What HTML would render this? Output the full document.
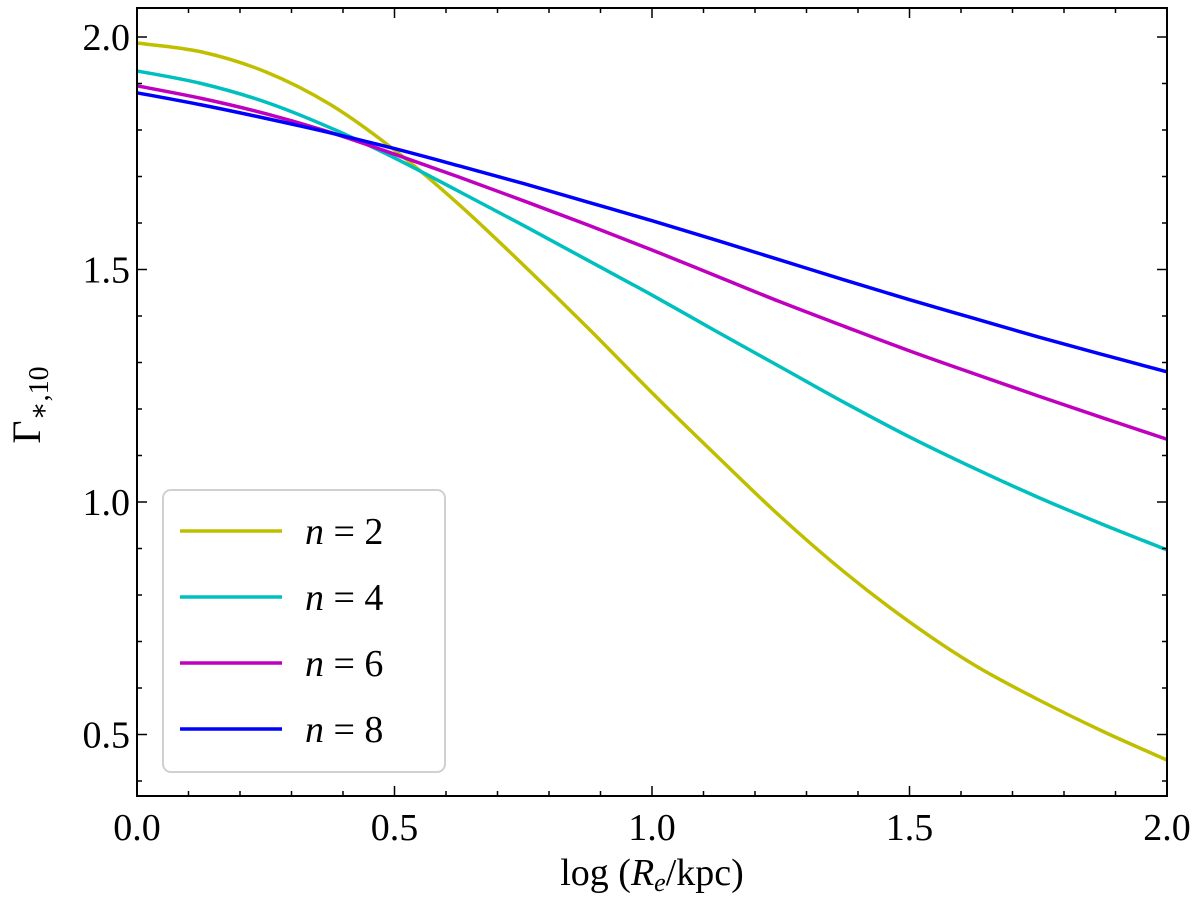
<!DOCTYPE html>
<html><head><meta charset="utf-8"><style>
body{margin:0;background:#fff}
svg text{font-family:"Liberation Serif","DejaVu Serif",serif;fill:#000}
</style></head><body>
<svg id="chart" width="1200" height="905" viewBox="0 0 1200 905" xmlns="http://www.w3.org/2000/svg">
<g id="marks"></g>
<g id="axes"></g>
<g id="legend"></g>
</svg>
<script>
const xs = [0, 0.125, 0.25, 0.375, 0.5, 0.625, 0.75, 0.875, 1.0, 1.125, 1.25, 1.375, 1.5, 1.625, 1.75, 1.875, 2.0];
const seriesN2 = [1.987, 1.968, 1.925, 1.855, 1.757, 1.64, 1.51, 1.375, 1.235, 1.10, 0.968, 0.848, 0.742, 0.65, 0.575, 0.507, 0.445];
const seriesN4 = [1.927, 1.90, 1.86, 1.805, 1.74, 1.668, 1.595, 1.52, 1.445, 1.367, 1.29, 1.213, 1.14, 1.073, 1.01, 0.952, 0.897];
const seriesN6 = [1.895, 1.868, 1.835, 1.795, 1.748, 1.699, 1.648, 1.596, 1.542, 1.486, 1.43, 1.377, 1.325, 1.276, 1.228, 1.181, 1.135];
const seriesN8 = [1.88, 1.854, 1.825, 1.794, 1.76, 1.723, 1.685, 1.645, 1.605, 1.563, 1.52, 1.477, 1.435, 1.395, 1.355, 1.317, 1.28];
const seriesLabels = ["n = 2", "n = 4", "n = 6", "n = 8"];
const xTicks = [0.0, 0.5, 1.0, 1.5, 2.0];
const yTicks = [0.5, 1.0, 1.5, 2.0];

const NS = "http://www.w3.org/2000/svg";
const L = 137, R = 1167, T = 8, B = 796;
function xp(v){ return L + v / 2 * (R - L); }
function yp(v){ return 37 + (2 - v) * 465; }
function mk(tag, attrs, parent){ const e = document.createElementNS(NS, tag); for (const k in attrs) e.setAttribute(k, attrs[k]); parent.appendChild(e); return e; }
function smoothPath(px, py){
  let d = "M" + px[0] + "," + py[0];
  for (let i = 0; i < px.length - 1; i++){
    const p0 = i > 0 ? i - 1 : i, p3 = i + 2 < px.length ? i + 2 : i + 1;
    const c1x = px[i] + (px[i+1] - px[p0]) / 6, c1y = py[i] + (py[i+1] - py[p0]) / 6;
    const c2x = px[i+1] - (px[p3] - px[i]) / 6, c2y = py[i+1] - (py[p3] - py[i]) / 6;
    d += " C" + c1x + "," + c1y + " " + c2x + "," + c2y + " " + px[i+1] + "," + py[i+1];
  }
  return d;
}
const marks = document.getElementById("marks");
const allSeries = [seriesN2, seriesN4, seriesN6, seriesN8];
const colors = ["#bfbf00", "#00bfbf", "#bf00bf", "#0000ff"];
const names = ["line-n2", "line-n4", "line-n6", "line-n8"];
allSeries.forEach((s, i) => {
  const p = mk("path", {d: smoothPath(xs.map(xp), s.map(yp)), fill: "none", stroke: colors[i], "stroke-width": 3.5}, marks);
  
  
});
const axes = document.getElementById("axes");
const frame = mk("rect", {x: L, y: T, width: R - L, height: B - T, fill: "none", stroke: "#000", "stroke-width": 2}, axes);


for (let i = 0; i <= 20; i++){
  const v = i / 10, x = xp(v), len = (i % 5 === 0) ? 10 : 5;
  mk("line", {x1: x, x2: x, y1: B, y2: B - len, stroke: "#000", "stroke-width": 1.5}, axes);
  mk("line", {x1: x, x2: x, y1: T, y2: T + len, stroke: "#000", "stroke-width": 1.5}, axes);
}
for (let i = 4; i <= 20; i++){
  const v = i / 10, y = yp(v), len = (i % 5 === 0) ? 10 : 5;
  if (y < T || y > B) continue;
  mk("line", {x1: L, x2: L + len, y1: y, y2: y, stroke: "#000", "stroke-width": 1.5}, axes);
  mk("line", {x1: R, x2: R - len, y1: y, y2: y, stroke: "#000", "stroke-width": 1.5}, axes);
}
xTicks.forEach(v => {
  const t = mk("text", {x: xp(v), y: 840, "text-anchor": "middle", "font-size": 38}, axes);
  t.textContent = v.toFixed(1);
  
  
});
yTicks.forEach(v => {
  const t = mk("text", {x: 130, y: yp(v) + 13, "text-anchor": "end", "font-size": 38}, axes);
  t.textContent = v.toFixed(1);
  
  
});
const xt = mk("text", {x: 652, y: 885, "text-anchor": "middle", "font-size": 38}, axes);
xt.innerHTML = 'log (<tspan font-style="italic">R</tspan><tspan font-style="italic" font-size="26" dy="6">e</tspan><tspan dy="-6">/kpc)</tspan>';


const yt = mk("text", {x: 0, y: 0, "text-anchor": "middle", "font-size": 40, transform: "translate(40,405) rotate(-90)"}, axes);
yt.innerHTML = 'Γ<tspan font-size="28" dy="8">∗,10</tspan>';


const leg = document.getElementById("legend");
const box = mk("rect", {x: 163, y: 490, width: 282, height: 282, rx: 8, fill: "#fff", stroke: "#d0d0d0", "stroke-width": 2}, leg);


seriesLabels.forEach((lab, i) => {
  const y = 531 + i * 66;
  const g = mk("g", {}, leg);
  
  
  mk("line", {x1: 180, x2: 282, y1: y, y2: y, stroke: colors[i], "stroke-width": 3.5}, g);
  const t = mk("text", {x: 305, y: y + 13, "font-size": 38}, g);
  const parts = lab.split(" = ");
  t.innerHTML = '<tspan font-style="italic">' + parts[0] + '</tspan> = ' + parts[1];
});
</script>
</body></html>
